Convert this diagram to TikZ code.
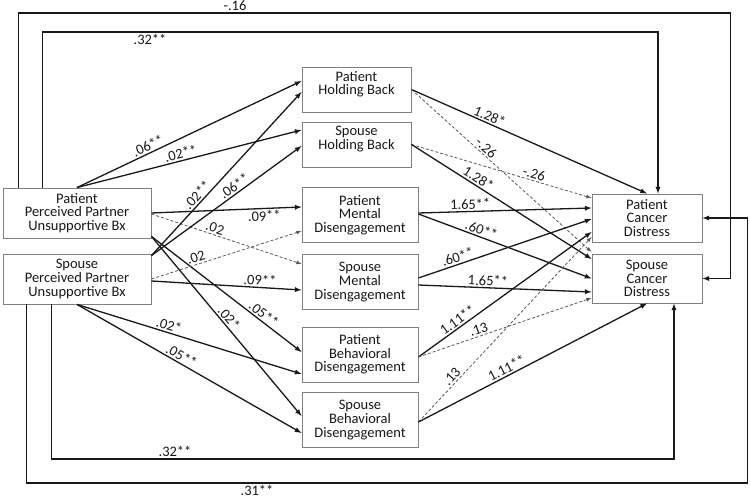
\documentclass[tikz,border=0pt]{standalone}
\usepackage{fontspec}
\setmainfont{Carlito}
\usepackage{tikz}
\usetikzlibrary{arrows}

\begin{document}
\begin{tikzpicture}[x=1pt, y=-1pt,
  box/.style={draw=gray, line width=0.9pt, fill=white, inner sep=0pt,
    text=black!90, font=\fontsize{14.5}{13.6}\selectfont},
  eff/.style={-latex, line width=1.3pt, color=black!90},
  ns/.style={-latex, dash pattern=on 3pt off 2pt, line width=0.8pt, color=gray!70!black},
  lbl/.style={sloped, above, inner sep=1.5pt, text=black!90,
    font=\fontsize{14.5}{14.5}\selectfont},
  olbl/.style={inner sep=2pt, text=black!90, font=\fontsize{14.5}{14.5}\selectfont}]

\useasboundingbox (0,0) rectangle (750,502);

\node[box] (ppa) at (77,213) {
\begin{minipage}[c][50pt]{148pt}
\centering Patient\\Perceived Partner\\Unsupportive Bx
\end{minipage}
};
\node[box] (ppb) at (77,279) {
\begin{minipage}[c][50pt]{148pt}
\centering Spouse\\Perceived Partner\\Unsupportive Bx
\end{minipage}
};

\node[box] (phb) at (356.5,89.5) {
\begin{minipage}[t][45pt]{109pt}
\vspace{4pt}
\centering Patient\\Holding Back
\end{minipage}
};
\node[box] (shb) at (356.5,144.5) {
\begin{minipage}[t][45pt]{109pt}
\vspace{4pt}
\centering Spouse\\Holding Back
\end{minipage}
};
\node[box] (pmd) at (360,215) {
\begin{minipage}[c][55pt]{116pt}
\centering Patient\\Mental\\Disengagement
\end{minipage}
};
\node[box] (smd) at (360,282) {
\begin{minipage}[c][55pt]{116pt}
\centering Spouse\\Mental\\Disengagement
\end{minipage}
};
\node[box] (pbd) at (360,354.5) {
\begin{minipage}[c][55pt]{116pt}
\centering Patient\\Behavioral\\Disengagement
\end{minipage}
};
\node[box] (sbd) at (360,420) {
\begin{minipage}[c][55pt]{116pt}
\centering Spouse\\Behavioral\\Disengagement
\end{minipage}
};

\node[box] (pcd) at (647,218) {
\begin{minipage}[c][48pt]{110pt}
\centering Patient\\Cancer\\Distress
\end{minipage}
};
\node[box] (scd) at (647,278.5) {
\begin{minipage}[c][49pt]{110pt}
\centering Spouse\\Cancer\\Distress
\end{minipage}
};

\draw[eff] (ppa.north) -- ([yshift=8.5pt]phb.west) node[lbl, pos=0.33] {.06**};
\draw[eff] (ppa.north) -- ([yshift=14.5pt]shb.west) node[lbl, pos=0.47] {.02**};
\draw[eff] (ppa.east) -- ([yshift=8pt]pmd.west) node[lbl, below, pos=0.75] {.09**};
\draw[ns] ([yshift=-1pt]ppa.east) -- ([yshift=18pt]smd.west) node[lbl, pos=0.41] {.02};
\draw[eff] ([yshift=2pt]ppa.south east) -- ([yshift=2.5pt]pbd.west) node[lbl, pos=0.72] {.05**};
\draw[eff] ([yshift=2pt]ppa.south east) -- ([yshift=4pt]sbd.west) node[lbl, pos=0.48] {.02*};

\draw[eff] ([yshift=-2pt]ppb.north east) -- ([yshift=-2.5pt]phb.west) node[lbl, pos=0.34] {.02**};
\draw[eff] ([yshift=-2pt]ppb.north east) -- ([yshift=-1.5pt]shb.west) node[lbl, pos=0.58] {.06**};
\draw[ns] (ppb.east) -- ([yshift=-16pt]pmd.west) node[lbl, pos=0.31] {.02};
\draw[eff] ([yshift=-2pt]ppb.east) -- ([yshift=-8pt]smd.west) node[lbl, pos=0.72] {.09**};
\draw[eff] (ppb.south) -- ([yshift=-19.5pt]pbd.west) node[lbl, pos=0.4] {.02*};
\draw[eff] (ppb.south) -- ([yshift=-13pt]sbd.west) node[lbl, pos=0.45] {.05**};

\draw[eff] (phb.east) -- (pcd.north) node[lbl, pos=0.32] {1.28*};
\draw[ns] (phb.east) -- ([yshift=26.5pt]scd.west) node[lbl, pos=0.39] {-.26};
\draw[ns] (shb.east) -- ([yshift=20pt]pcd.west) node[lbl, pos=0.67] {-.26};
\draw[eff] (shb.east) -- ([yshift=19.5pt]scd.west) node[lbl, pos=0.35] {1.28*};
\draw[eff] ([yshift=2pt]pmd.east) -- ([yshift=10pt]pcd.west) node[lbl, pos=0.3] {1.65**};
\draw[eff] ([yshift=1pt]pmd.east) -- (scd.west) node[lbl, pos=0.35] {.60**};
\draw[eff] ([yshift=4pt]smd.east) -- ([yshift=-1pt]pcd.west) node[lbl, pos=0.24] {.60**};
\draw[eff] ([yshift=-3pt]smd.east) -- ([yshift=-13.5pt]scd.west) node[lbl, pos=0.4] {1.65**};
\draw[eff] ([yshift=-2.5pt]pbd.east) -- ([yshift=-14pt]pcd.west) node[lbl, pos=0.25] {1.11**};
\draw[ns] ([yshift=-2.5pt]pbd.east) -- ([yshift=-19.5pt]scd.west) node[lbl, pos=0.36] {.13};
\draw[ns] ([yshift=-2pt]sbd.east) -- ([yshift=-19pt]pcd.west) node[lbl, pos=0.22] {.13};
\draw[eff] ([yshift=-2pt]sbd.east) -- (scd.south) node[lbl, pos=0.4] {1.11**};

\draw[eff] ([xshift=16pt]ppa.north west) |- (235,13) node[olbl, above] {-.16}
  -| ([xshift=28pt]scd.east) -- (scd.east);
\draw[eff] ([xshift=40pt]ppa.north west) |- (150,32) node[olbl, below] {.32**}
  -| ([xshift=11pt]pcd.north);
\draw[eff] ([xshift=49pt]ppb.south west) |- (175,459) node[olbl, above] {.32**}
  -| ([xshift=27pt]scd.south);
\draw[eff] ([xshift=24pt]ppb.south west) |- (257,483) node[olbl, below] {.31**}
  -| ([xshift=45pt]pcd.east) -- (pcd.east);
\end{tikzpicture}
\end{document}
